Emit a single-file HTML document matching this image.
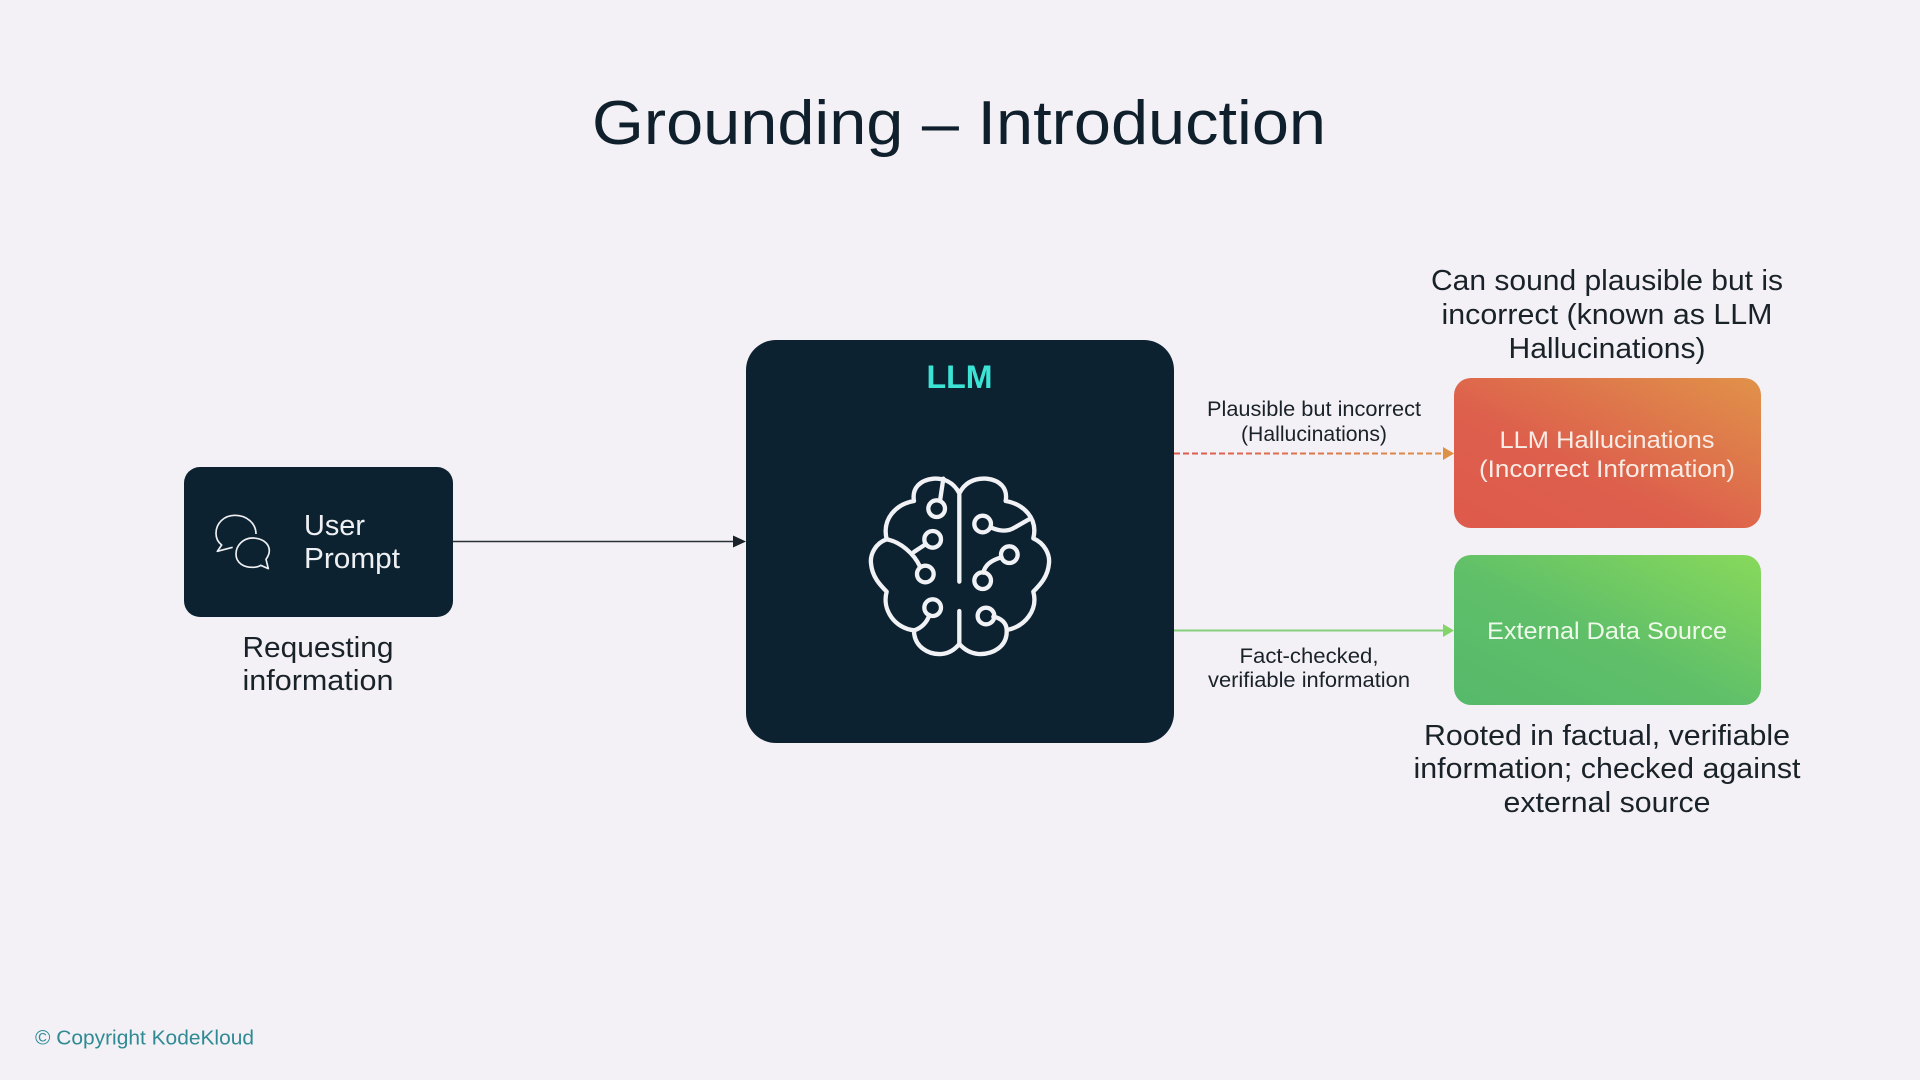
<!DOCTYPE html>
<html><head><meta charset="utf-8"><style>
html,body{margin:0;padding:0;width:1920px;height:1080px;overflow:hidden;background:#f3f1f6}
svg{display:block}
text{font-family:"Liberation Sans",sans-serif;fill:#1a2229}
</style></head><body>
<svg width="1920" height="1080" viewBox="0 0 1920 1080" xmlns="http://www.w3.org/2000/svg">
<defs>
<linearGradient id="red" x1="0" y1="1" x2="1" y2="0"><stop offset="0" stop-color="#de5a4c"/><stop offset=".4" stop-color="#dd5f4c"/><stop offset="1" stop-color="#e0924a"/></linearGradient>
<linearGradient id="green" x1="0" y1="1" x2="1" y2="0"><stop offset="0" stop-color="#56b96b"/><stop offset=".45" stop-color="#5fbf69"/><stop offset="1" stop-color="#88d95b"/></linearGradient>
<linearGradient id="rl" gradientUnits="userSpaceOnUse" x1="1174" y1="453" x2="1444" y2="453"><stop offset="0" stop-color="#dc5a50"/><stop offset="1" stop-color="#de9048"/></linearGradient>
</defs>
<rect width="1920" height="1080" fill="#f3f1f6"/>
<text x="959" y="144" text-anchor="middle" font-size="62" textLength="734" lengthAdjust="spacingAndGlyphs" style="fill:#0f1f2b">Grounding – Introduction</text>

<rect x="184" y="467" width="269" height="150" rx="16" fill="#0d2230"/>
<g transform="translate(180,460) scale(.3333)" fill="none" stroke="#eef0f3" stroke-width="5" stroke-linejoin="round">
<path d="M228 222C228 190 200 166 165 166C132 166 108 190 108 220C108 236 116 248 125 255L112 274L158 262"/>
<path d="M218 234C190 234 168 256 168 282C168 310 192 322 218 322C228 322 236 320 242 316L265 326L258 298C264 290 268 280 268 272C268 250 246 234 218 234Z"/>
</g>
<text x="304" y="535" font-size="29" textLength="61" lengthAdjust="spacingAndGlyphs" style="fill:#eef0f3">User</text>
<text x="304" y="568" font-size="29" textLength="96" lengthAdjust="spacingAndGlyphs" style="fill:#eef0f3">Prompt</text>
<text x="318" y="657" text-anchor="middle" font-size="29" textLength="151" lengthAdjust="spacingAndGlyphs">Requesting</text>
<text x="318" y="690" text-anchor="middle" font-size="29" textLength="151" lengthAdjust="spacingAndGlyphs">information</text>

<line x1="453" y1="541.5" x2="735" y2="541.5" stroke="#2a3136" stroke-width="1.6"/>
<polygon points="733,535.5 746,541.5 733,547.5" fill="#1a2229"/>

<rect x="746" y="340" width="428" height="403" rx="30" fill="#0d2230"/>
<text x="959.5" y="388" text-anchor="middle" font-size="32" font-weight="700" textLength="66" lengthAdjust="spacingAndGlyphs" style="fill:#3ce4d6">LLM</text>

<g transform="translate(840,450) scale(.3333)" fill="none" stroke="#f1f2f5" stroke-width="13" stroke-linecap="round" stroke-linejoin="round">
<path d="M358 130C340 95 310 84 280 86C240 90 215 115 222 153C170 162 125 205 140 268C105 280 90 315 93 340C96 380 120 405 140 425C125 480 165 535 222 541C222 590 265 615 305 612C328 610 345 598 358 582C372 598 392 610 415 612C458 614 503 590 500 540C555 530 595 480 580 425C600 405 624 380 627 340C630 315 615 280 580 265C595 205 550 162 497 153C504 115 480 90 440 86C405 84 376 95 358 130Z"/>
<path d="M358 135V395M358 483V582"/>
<circle cx="290" cy="176" r="25"/><circle cx="278" cy="268" r="25"/><circle cx="256" cy="372" r="25"/><circle cx="278" cy="473" r="25"/>
<circle cx="428" cy="222" r="25"/><circle cx="508" cy="314" r="25"/><circle cx="428" cy="392" r="25"/><circle cx="438" cy="498" r="25"/>
<path d="M310 86L300 153"/>
<path d="M140 268C180 275 222 310 240 350"/>
<path d="M222 306L258 282"/>
<path d="M222 541C245 535 262 515 268 495"/>
<path d="M452 232C480 245 505 245 525 232L572 205"/>
<path d="M485 322C455 330 435 345 430 368"/>
<path d="M460 500C485 505 500 520 500 540"/>
</g>

<text x="1314" y="416" text-anchor="middle" font-size="21" textLength="214" lengthAdjust="spacingAndGlyphs">Plausible but incorrect</text>
<text x="1314" y="441" text-anchor="middle" font-size="21" textLength="146" lengthAdjust="spacingAndGlyphs">(Hallucinations)</text>
<line x1="1174" y1="453.5" x2="1444" y2="453.5" stroke="url(#rl)" stroke-width="2" stroke-dasharray="6 3"/>
<polygon points="1443,447 1454,453.5 1443,460" fill="#de9048"/>

<line x1="1174" y1="630.5" x2="1444" y2="630.5" stroke="#85cf7c" stroke-width="2"/>
<polygon points="1443,624 1454,630.5 1443,637" fill="#84d46a"/>
<text x="1309" y="663" text-anchor="middle" font-size="21" textLength="139" lengthAdjust="spacingAndGlyphs">Fact-checked,</text>
<text x="1309" y="687" text-anchor="middle" font-size="21" textLength="202" lengthAdjust="spacingAndGlyphs">verifiable information</text>

<rect x="1454" y="378" width="307" height="150" rx="17" fill="url(#red)"/>
<text x="1607" y="448" text-anchor="middle" font-size="24" textLength="215" lengthAdjust="spacingAndGlyphs" style="fill:#f9ece6">LLM Hallucinations</text>
<text x="1607" y="477" text-anchor="middle" font-size="24" textLength="256" lengthAdjust="spacingAndGlyphs" style="fill:#f9ece6">(Incorrect Information)</text>
<rect x="1454" y="555" width="307" height="150" rx="17" fill="url(#green)"/>
<text x="1607" y="639" text-anchor="middle" font-size="24" textLength="240" lengthAdjust="spacingAndGlyphs" style="fill:#eef9ea">External Data Source</text>

<text x="1607" y="290" text-anchor="middle" font-size="29" textLength="352" lengthAdjust="spacingAndGlyphs">Can sound plausible but is</text>
<text x="1607" y="324" text-anchor="middle" font-size="29" textLength="331" lengthAdjust="spacingAndGlyphs">incorrect (known as LLM</text>
<text x="1607" y="358" text-anchor="middle" font-size="29" textLength="197" lengthAdjust="spacingAndGlyphs">Hallucinations)</text>
<text x="1607" y="745" text-anchor="middle" font-size="29" textLength="366" lengthAdjust="spacingAndGlyphs">Rooted in factual, verifiable</text>
<text x="1607" y="778" text-anchor="middle" font-size="29" textLength="387" lengthAdjust="spacingAndGlyphs">information; checked against</text>
<text x="1607" y="812" text-anchor="middle" font-size="29" textLength="207" lengthAdjust="spacingAndGlyphs">external source</text>

<text x="35" y="1044.5" font-size="20" textLength="219" lengthAdjust="spacingAndGlyphs" style="fill:#2f8a94">© Copyright KodeKloud</text>
</svg>
</body></html>
